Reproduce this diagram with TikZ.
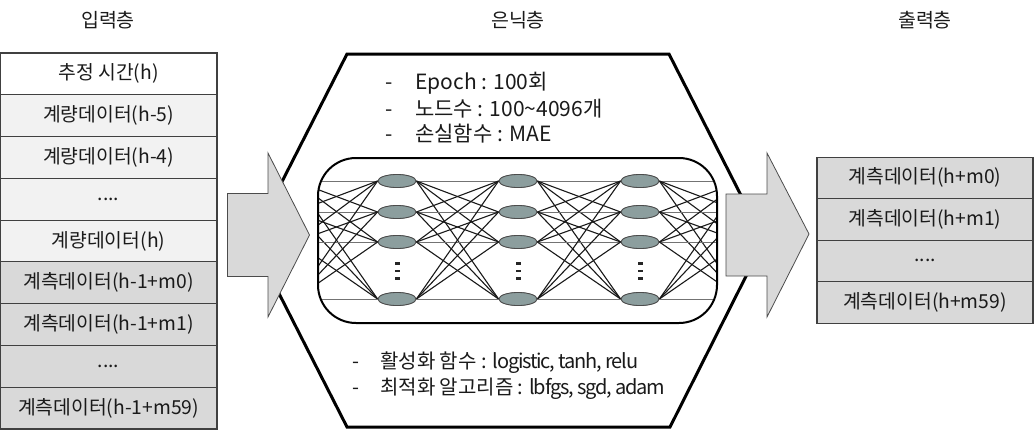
\documentclass[tikz,border=0pt]{standalone}
\usepackage{fontspec}
\setmainfont{Noto Sans CJK KR}
\usetikzlibrary{shapes.geometric}
\definecolor{g1}{HTML}{F2F2F2}
\definecolor{g2}{HTML}{D9D9D9}
\definecolor{nodefill}{RGB}{140,158,158}
\definecolor{txt}{HTML}{1A1A1A}
\begin{document}
\begin{tikzpicture}[x=1pt,y=-1pt,
  cell/.style={draw=black!75, line width=1.1pt, inner sep=0pt, minimum width=217pt, minimum height=41.78pt, text=txt, font=\fontsize{19.3}{22}\selectfont},
  ocell/.style={cell, minimum width=216pt, minimum height=41.5pt, fill=g2},
  title/.style={text=txt, font=\fontsize{19.5}{22}\selectfont},
  info/.style={anchor=west, text=txt, inner sep=0pt, font=\fontsize{21}{24}\selectfont},
  info2/.style={anchor=west, text=txt, inner sep=0pt, font=\fontsize{20}{24}\selectfont},
  bigarrow/.style={fill=g2, draw=black!70, line width=0.8pt, line join=miter},
  neuron/.style={ellipse, draw=black!70, line width=0.8pt, fill=nodefill, minimum width=38pt, minimum height=13pt, inner sep=0pt},
  ghost/.style={ellipse, minimum width=38pt, minimum height=13pt, inner sep=0pt},
  gl/.style={draw=black!55, line width=0.9pt},
  dl/.style={draw=black!90, line width=1.1pt},
  dotmark/.style={fill=black!85, inner sep=0pt, minimum width=5pt, minimum height=2.4pt}
]
\useasboundingbox (0,0) rectangle (1035,429);

% titles
\node[title] (tin) at (108,20) {입력층};
\node[title] (thid) at (518,20) {은닉층};
\node[title] (tout) at (925,20) {출력층};

% hexagon
\draw[line width=3pt, fill=white, line join=miter] (347,54) -- (669,54) -- (764,240.5) -- (670,427) -- (347,427) -- (252,240.5) -- cycle;

% input column
\node[cell, fill=white] (i1) at (108.5, 73.9) {추정 시간(h)};
\node[cell, fill=g1] (i2) at (108.5, 115.7) {계량데이터(h-5)};
\node[cell, fill=g1] (i3) at (108.5, 157.5) {계량데이터(h-4)};
\node[cell, fill=g1] (i4) at (108.5, 199.2) {....};
\node[cell, fill=g1] (i5) at (108.5, 241.0) {계량데이터(h)};
\node[cell, fill=g2] (i6) at (108.5, 282.8) {계측데이터(h-1+m0)};
\node[cell, fill=g2] (i7) at (108.5, 324.6) {계측데이터(h-1+m1)};
\node[cell, fill=g2] (i8) at (108.5, 366.4) {....};
\node[cell, fill=g2] (i9) at (108.5, 408.1) {계측데이터(h-1+m59)};

% output column
\node[ocell] (o1) at (925, 177.8) {계측데이터(h+m0)};
\node[ocell] (o2) at (925, 219.3) {계측데이터(h+m1)};
\node[ocell] (o3) at (925, 260.8) {....};
\node[ocell] (o4) at (925, 302.3) {계측데이터(h+m59)};

% arrows
\draw[bigarrow] (227.5,193.5) -- (268,193.5) -- (268,153) -- (309.5,235) -- (268,317) -- (268,276.5) -- (227.5,276.5) -- cycle;
\draw[bigarrow] (726,194) -- (767,194) -- (767,153) -- (809,234) -- (767,317) -- (767,276) -- (726,276) -- cycle;

% hidden layer info text
\node[info] (t1) at (385,83) {\makebox[30pt][l]{-}Epoch : 100회};
\node[info] (t2) at (385,109) {\makebox[30pt][l]{-}노드수 : 100\textasciitilde4096개};
\node[info] (t3) at (385,134) {\makebox[30pt][l]{-}손실함수 : MAE};
\node[info2] (b1) at (352,363) {\makebox[28pt][l]{-}활성화 함수 : {\addfontfeatures{LetterSpace=-6}logistic, tanh, relu}};
\node[info2] (b2) at (352,389) {\makebox[28pt][l]{-}최적화 알고리즘 : {\addfontfeatures{LetterSpace=-6}lbfgs, sgd, adam}};

% network box
\node[draw=white, fill=white, rounded corners=38pt, minimum width=399pt, minimum height=165pt, inner sep=0pt] (netbox) at (517.5,240.5) {};

% neurons (columns 0 and 4 are off-box ghosts)
\foreach \c/\x in {0/276,4/761} {
  \foreach \r/\y in {1/181,2/212,3/242,4/299} {
    \node[ghost] (n\c-\r) at (\x,\y) {};
  }
}
\foreach \c/\x in {1/397,2/518,3/640} {
  \foreach \r/\y in {1/181,2/212,3/242,4/299} {
    \node[neuron] (n\c-\r) at (\x,\y) {};
  }
}

\begin{scope}
\clip[rounded corners=38pt] (318,158) rectangle (717,323);
\foreach \c/\n in {0/1,1/2,2/3,3/4} {
  \foreach \a in {1,...,4} {
    \foreach \b in {1,...,4} {
      \ifnum\a=\b
        \draw[gl] (n\c-\a.east) -- (n\n-\b.west);
      \else
        \draw[dl] (n\c-\a.east) -- (n\n-\b.west);
      \fi
    }
  }
}
\end{scope}

% redraw neurons on top
\foreach \c/\x in {1/397,2/518,3/640} {
  \foreach \r/\y in {1/181,2/212,3/242,4/299} {
    \node[neuron] at (\x,\y) {};
  }
  \node[dotmark] (d\c-1) at (\x,263.5) {};
  \node[dotmark] (d\c-2) at (\x,271) {};
  \node[dotmark] (d\c-3) at (\x,278.5) {};
}

\draw[line width=2pt, rounded corners=38pt] (318,158) rectangle (717,323);
\end{tikzpicture}
\end{document}
